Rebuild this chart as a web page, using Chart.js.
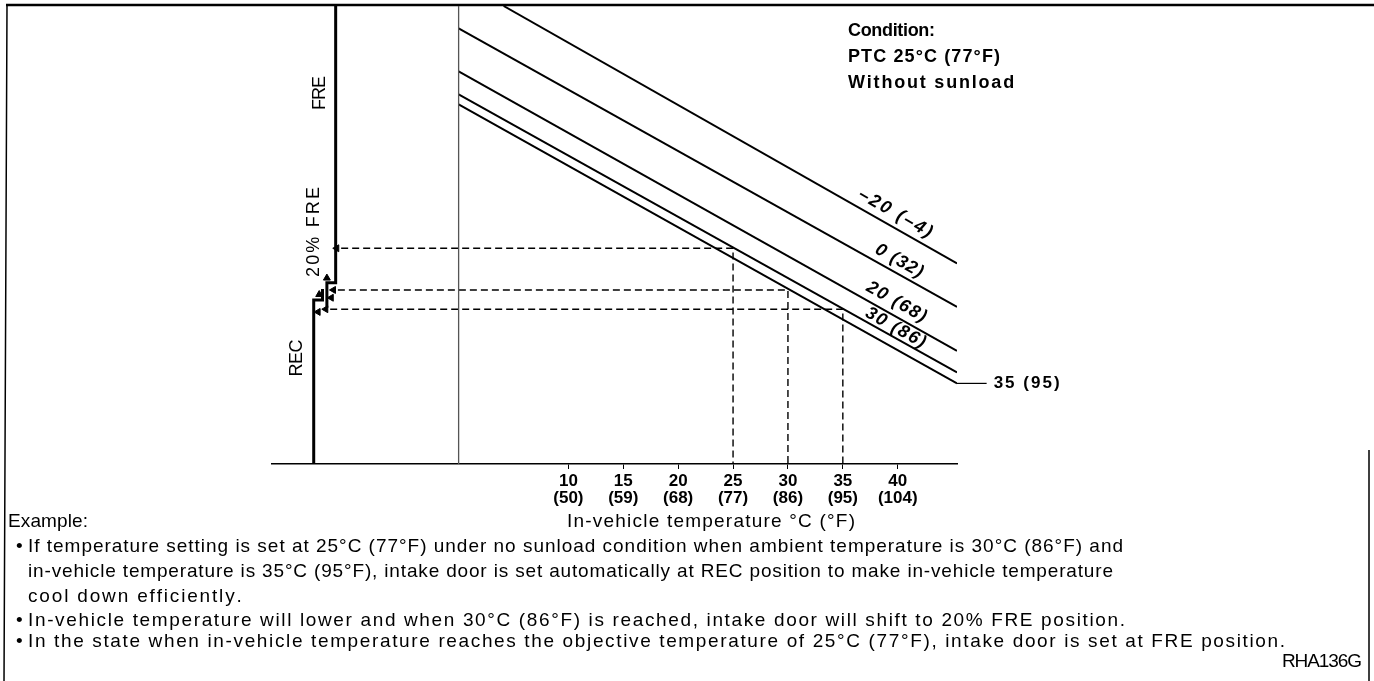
<!DOCTYPE html>
<html>
<head>
<meta charset="utf-8">
<script src="https://cdn.jsdelivr.net/npm/chart.js@4"></script>
<style>
  html, body { margin: 0; padding: 0; background: #fff; }
  #chart { display: block; }
</style>
</head>
<body>
<canvas id="chart" width="1374" height="681"></canvas>
<script>
// in-vehicle temperature axis, °C with °F underneath
const celsiusTicks = [10, 15, 20, 25, 30, 35, 40];
const fahrenheitTicks = ['(50)', '(59)', '(68)', '(77)', '(86)', '(95)', '(104)'];

// ambient temperature lines (door switching level vs in-vehicle temp)
const ambientLabels = ['\u201320 (\u20134)', '0 (32)', '20 (68)', '30 (86)', '35 (95)'];
const ambientStartX = [4.1, 0, 0, 0, 0];
const ambientStartY = [100, 95.1, 85.7, 80.7, 78.5];
const ambientEndX = [45.4, 45.4, 45.4, 45.4, 45.4];
const ambientEndY = [43.8, 34.3, 24.7, 20.0, 17.6];

// worked example: in-vehicle temp -> switching level -> door position
const exampleTemps = [25, 30, 35];
const exampleLevels = [47.1, 38.0, 33.8];
const exampleArrowX = [-11.1, -11.4, -12.1];

// intake door position steps (REC -> 20% FRE -> FRE)
const recStepX = [-13.2, -13.2, -12.4, -12.4];
const recStepY = [0, 35.8, 35.8, 38.2];
const freStepX = [-12.0, -12.0, -11.2, -11.2];
const freStepY = [34.1, 39.6, 39.6, 100];
const doorArrowX = [-12.0, -12.7, -11.6, -12.8];
const doorArrowY = [40.6, 37.0, 36.3, 33.2];
const doorArrowRot = [0, 0, 270, 270];

const FONT = "'Liberation Sans', Arial, Helvetica, sans-serif";

function toPoints(xs, ys) {
  return xs.map((x, i) => ({ x: x, y: ys[i] }));
}

const datasets = [];

// divider between door positions and the temperature field
datasets.push({
  data: [{ x: 0, y: 0 }, { x: 0, y: 100 }],
  borderColor: '#555',
  borderWidth: 1.3
});

ambientLabels.forEach((label, i) => {
  datasets.push({
    label: label,
    data: [{ x: ambientStartX[i], y: ambientStartY[i] }, { x: ambientEndX[i], y: ambientEndY[i] }],
    borderColor: '#000',
    borderWidth: 2
  });
});

// leader from the last line out to its label
const last = ambientLabels.length - 1;
datasets.push({
  data: [{ x: ambientEndX[last], y: ambientEndY[last] }, { x: 48.1, y: ambientEndY[last] }],
  borderColor: '#000',
  borderWidth: 1.2,
  clip: false
});

exampleTemps.forEach((t, i) => {
  datasets.push({
    data: [
      { x: exampleArrowX[i] + 0.4, y: exampleLevels[i] },
      { x: t, y: exampleLevels[i] },
      { x: t, y: 0 }
    ],
    borderColor: '#000',
    borderWidth: 1.4,
    borderDash: [7, 4]
  });
});

datasets.push({
  data: toPoints(recStepX, recStepY),
  borderColor: '#000',
  borderWidth: 3,
  borderJoinStyle: 'miter'
});
datasets.push({
  data: toPoints(freStepX, freStepY),
  borderColor: '#000',
  borderWidth: 3,
  borderJoinStyle: 'miter'
});

// arrow heads: dashed line ends plus the small step arrows
datasets.push({
  type: 'scatter',
  data: toPoints(exampleArrowX, exampleLevels).concat(toPoints(doorArrowX, doorArrowY)),
  pointStyle: 'triangle',
  pointRadius: 4,
  pointRotation: exampleArrowX.map(() => 270).concat(doorArrowRot),
  backgroundColor: '#000',
  borderColor: '#000',
  borderWidth: 1,
  showLine: false
});

// draws text left-aligned, spreading the letters out to a given width
function fitText(ctx, text, x, y, width) {
  const natural = ctx.measureText(text).width;
  if (!width || text.length < 2) {
    ctx.fillText(text, x, y);
    return;
  }
  const extra = (width - natural) / (text.length - 1);
  let cx = x;
  for (const ch of text) {
    ctx.fillText(ch, cx, y);
    cx += ctx.measureText(ch).width + extra;
  }
}

const notes = [
  { text: 'Example:', x: 8, y: 522, w: 80 },
  { text: 'If temperature setting is set at 25\u00b0C (77\u00b0F) under no sunload condition when ambient temperature is 30\u00b0C (86\u00b0F) and', x: 28, y: 547, w: 1095, bullet: true },
  { text: 'in-vehicle temperature is 35\u00b0C (95\u00b0F), intake door is set automatically at REC position to make in-vehicle temperature', x: 28, y: 572, w: 1085 },
  { text: 'cool down efficiently.', x: 28, y: 597, w: 212 },
  { text: 'In-vehicle temperature will lower and when 30\u00b0C (86\u00b0F) is reached, intake door will shift to 20% FRE position.', x: 28, y: 621, w: 1097, bullet: true },
  { text: 'In the state when in-vehicle temperature reaches the objective temperature of 25\u00b0C (77\u00b0F), intake door is set at FRE position.', x: 28, y: 642, w: 1257, bullet: true }
];

const annotations = {
  id: 'annotations',
  beforeDraw(chart) {
    const ctx = chart.ctx;
    ctx.save();
    ctx.fillStyle = '#fff';
    ctx.fillRect(0, 0, chart.width, chart.height);
    // frame
    ctx.strokeStyle = '#000';
    ctx.lineWidth = 2.5;
    ctx.beginPath();
    ctx.moveTo(6, 5);
    ctx.lineTo(1374, 5);
    ctx.stroke();
    ctx.lineWidth = 1.5;
    ctx.beginPath();
    ctx.moveTo(7, 5);
    ctx.lineTo(4, 681);
    ctx.moveTo(1369, 450);
    ctx.lineTo(1369, 681);
    ctx.stroke();
    ctx.restore();
  },
  afterDatasetsDraw(chart) {
    const ctx = chart.ctx;
    const xs = chart.scales.x;
    const ys = chart.scales.y;
    ctx.save();
    ctx.fillStyle = '#000';

    // labels along the ambient lines
    const anchors = [39.2, 39.6, 39.3, 39.4];
    const offsets = [13, 12, 13, 9];
    const widths = [82, 52, 66, 66];
    ctx.font = 'bold italic 18px ' + FONT;
    ctx.textAlign = 'left';
    ctx.textBaseline = 'middle';
    for (let i = 0; i < 4; i++) {
      const x1 = xs.getPixelForValue(ambientStartX[i]);
      const y1 = ys.getPixelForValue(ambientStartY[i]);
      const x2 = xs.getPixelForValue(ambientEndX[i]);
      const y2 = ys.getPixelForValue(ambientEndY[i]);
      const t = (anchors[i] - ambientStartX[i]) / (ambientEndX[i] - ambientStartX[i]);
      const px = xs.getPixelForValue(anchors[i]);
      const py = y1 + (y2 - y1) * t;
      ctx.save();
      ctx.translate(px, py);
      ctx.rotate(Math.atan2(y2 - y1, x2 - x1));
      fitText(ctx, ambientLabels[i], -widths[i] / 2, -offsets[i], widths[i]);
      ctx.restore();
    }

    // label at the end of the leader
    ctx.font = 'bold 17px ' + FONT;
    fitText(ctx, ambientLabels[last], xs.getPixelForValue(48.1) + 7, ys.getPixelForValue(ambientEndY[last]), 66);

    // condition block
    ctx.font = 'bold 18px ' + FONT;
    fitText(ctx, 'Condition:', 848, 31, 87);
    fitText(ctx, 'PTC 25\u00b0C (77\u00b0F)', 848, 57, 152);
    fitText(ctx, 'Without sunload', 848, 83, 166);

    // door position names, written upward
    ctx.font = '18px ' + FONT;
    const doorNames = [['FRE', 320, 93, 34], ['20% FRE', 314, 232, 90], ['REC', 297, 358, 37]];
    doorNames.forEach(([name, cx, cy, w]) => {
      ctx.save();
      ctx.translate(cx, cy);
      ctx.rotate(-Math.PI / 2);
      fitText(ctx, name, -w / 2, 0, w);
      ctx.restore();
    });

    // axis title and example notes
    ctx.font = '19px ' + FONT;
    fitText(ctx, 'In-vehicle temperature \u00b0C (\u00b0F)', 567, 522, 288);
    notes.forEach(n => {
      if (n.bullet) ctx.fillText('\u2022', 16, n.y);
      fitText(ctx, n.text, n.x, n.y, n.w);
    });
    fitText(ctx, 'RHA136G', 1282, 662, 80);
    ctx.restore();
  }
};

new Chart(document.getElementById('chart'), {
  type: 'line',
  data: { datasets: datasets },
  options: {
    responsive: false,
    devicePixelRatio: 1,
    animation: false,
    events: [],
    layout: { padding: { left: 272, right: 417, top: 6, bottom: 167 } },
    elements: {
      point: { radius: 0 },
      line: { tension: 0, fill: false }
    },
    plugins: {
      legend: { display: false },
      tooltip: { enabled: false }
    },
    scales: {
      x: {
        type: 'linear',
        min: -17,
        max: 45.4,
        afterBuildTicks(scale) {
          scale.ticks = celsiusTicks.map(v => ({ value: v }));
        },
        afterFit(scale) {
          scale.height = 50;
        },
        ticks: {
          autoSkip: false,
          maxRotation: 0,
          padding: 4,
          color: '#000',
          font: { family: FONT, size: 17, weight: 'bold', lineHeight: 1.0 },
          callback(value) {
            const i = celsiusTicks.indexOf(value);
            return [String(value), fahrenheitTicks[i]];
          }
        },
        grid: {
          drawOnChartArea: false,
          drawTicks: true,
          tickLength: 5,
          color: '#000',
          lineWidth: 1
        },
        border: { color: '#000', width: 1.5 }
      },
      y: {
        display: false,
        min: 0,
        max: 100
      }
    }
  },
  plugins: [annotations]
});
</script>
</body>
</html>
